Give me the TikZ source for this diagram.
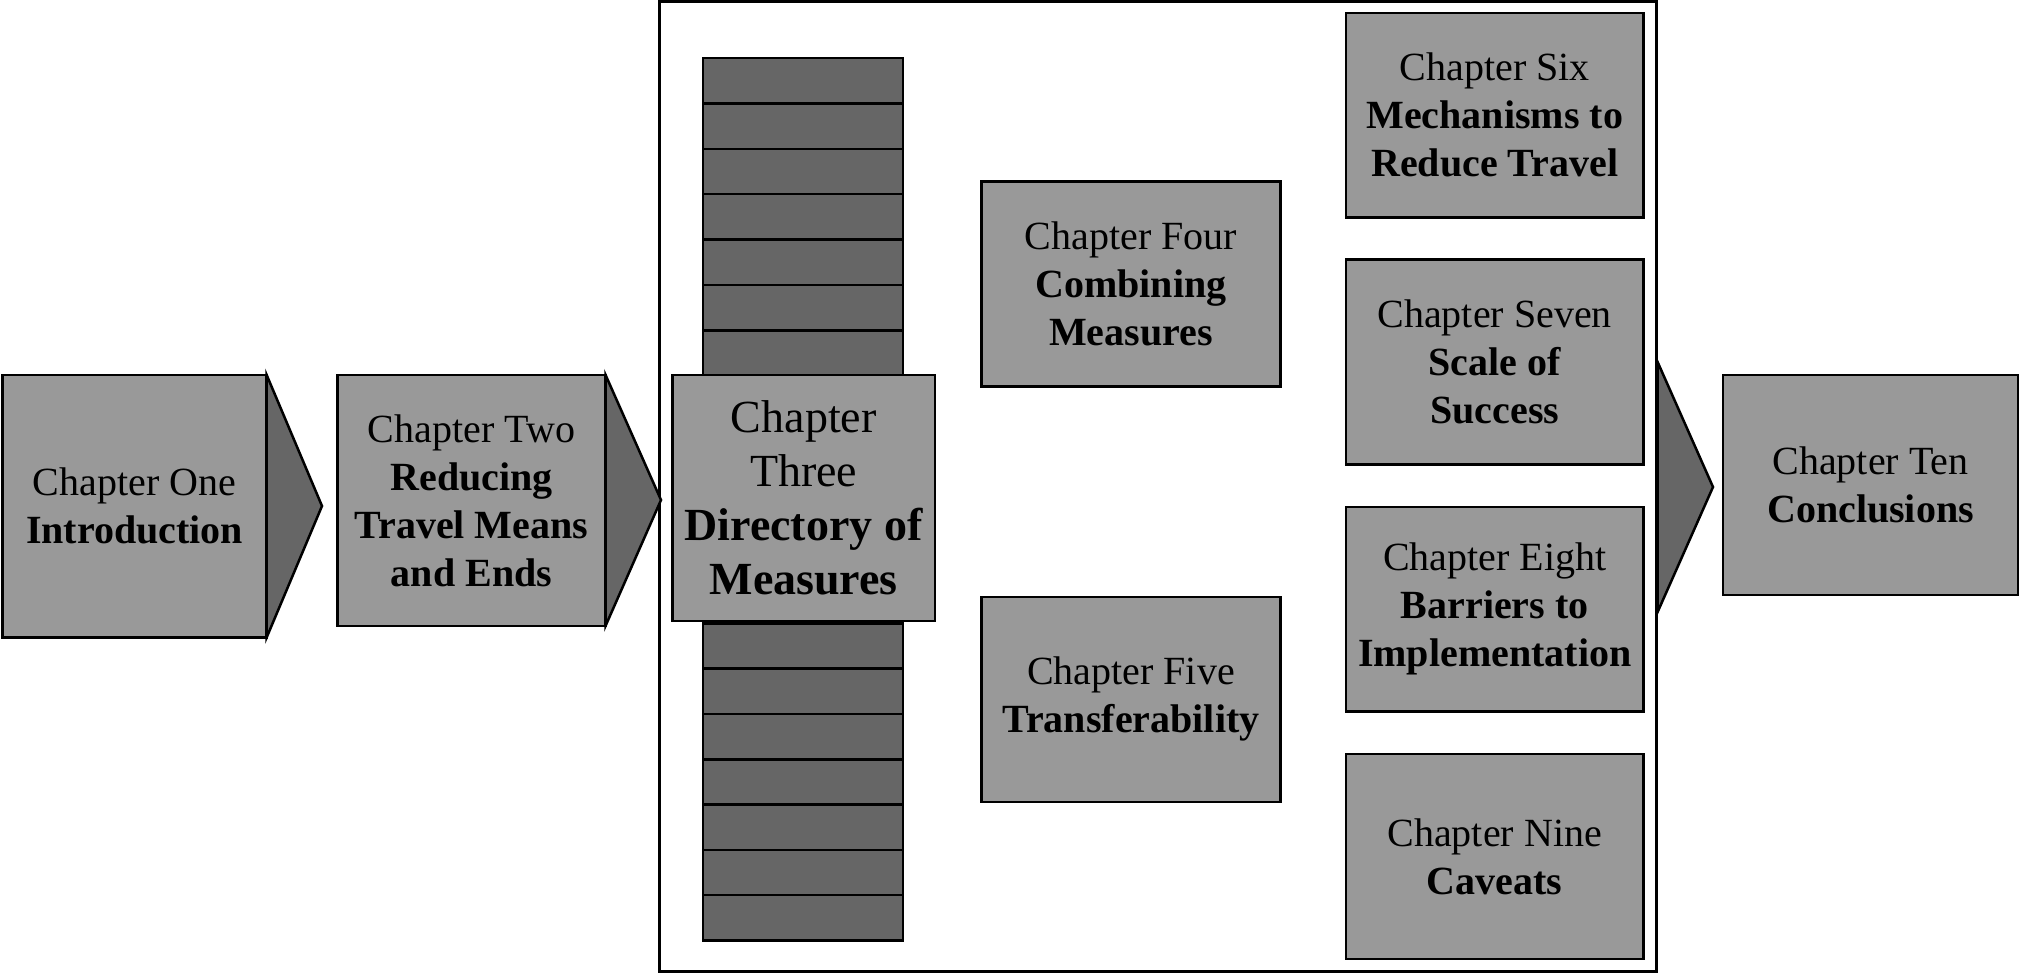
\documentclass[tikz,border=0pt]{standalone}
\usepackage{fontspec}
\setmainfont{Liberation Serif}
\definecolor{boxgray}{HTML}{999999}
\definecolor{slabgray}{HTML}{666666}
\begin{document}
\begin{tikzpicture}[x=0.5pt,y=-0.5pt,
 chap/.style={draw=black, fill=boxgray, line width=1.25pt, inner sep=0pt, outer sep=0pt, align=center, font=\fontsize{20}{24}\selectfont},
 slab/.style={draw=black, fill=slabgray, line width=1.25pt},
 tri/.style={draw=black, fill=slabgray, line width=1.25pt, line join=miter},
 framebox/.style={draw=black, line width=1.25pt, inner sep=0pt, outer sep=0pt}]
\useasboundingbox (0,0) rectangle (2020,973);
% frame
\node[framebox, minimum width=498.45pt, minimum height=485pt] (frame) at (1158,486.5) {};
% stacks
\foreach \i in {0,...,6} {
  \draw[slab] (703.2,{58+\i*45.4}) rectangle (902.9,{58+(\i+1)*45.4});
  \draw[slab] (703.2,{623.4+\i*45.3}) rectangle (902.9,{623.4+(\i+1)*45.3});
}
% chapter boxes
\node[chap, minimum width=132pt, minimum height=131.4pt] (one) at (134.6,506.2) {Chapter One\\\textbf{Introduction}};
\node[chap, minimum width=134pt, minimum height=125.6pt] (two) at (471.5,500.4) {Chapter Two\\\textbf{Reducing}\\\textbf{Travel Means}\\\textbf{and Ends}};
\node[chap, minimum width=131.4pt, minimum height=123pt, font=\fontsize{23}{27}\selectfont] (three) at (803.7,497.8) {Chapter\\Three\\\textbf{Directory of}\\\textbf{Measures}};
\node[chap, minimum width=149.4pt, minimum height=102.4pt] (four) at (1130.9,284) {Chapter Four\\\textbf{Combining}\\\textbf{Measures}};
\node[chap, minimum width=149.4pt, minimum height=102.4pt] (five) at (1130.9,699.4) {Chapter Five\\\textbf{Transferability}};
\node[chap, minimum width=148.75pt, minimum height=102.4pt] (six) at (1494.7,115.3) {Chapter Six\\\textbf{Mechanisms to}\\\textbf{Reduce Travel}};
\node[chap, minimum width=148.75pt, minimum height=102.4pt] (seven) at (1494.7,362) {Chapter Seven\\\textbf{Scale of}\\\textbf{Success}};
\node[chap, minimum width=148.75pt, minimum height=102.4pt] (eight) at (1494.7,609.2) {Chapter Eight\\\textbf{Barriers to}\\\textbf{Implementation}};
\node[chap, minimum width=148.75pt, minimum height=102.4pt] (nine) at (1494.7,856.6) {Chapter Nine\\\textbf{Caveats}};
\node[chap, minimum width=147.5pt, minimum height=110pt] (ten) at (1870.5,484.9) {Chapter Ten\\\textbf{Conclusions}};
% arrows
\coordinate (tip1) at (322,506);
\coordinate (tip2) at (661,500);
\coordinate (a3top) at (1657.6,362);
\coordinate (a3bot) at (1657.6,612);
\coordinate (tip3) at (1713,487);
\draw[tri] (one.north east) -- (tip1) -- (one.south east) -- cycle;
\draw[tri] (two.north east) -- (tip2) -- (two.south east) -- cycle;
\draw[tri] (a3top) -- (tip3) -- (a3bot) -- cycle;
\end{tikzpicture}
\end{document}
